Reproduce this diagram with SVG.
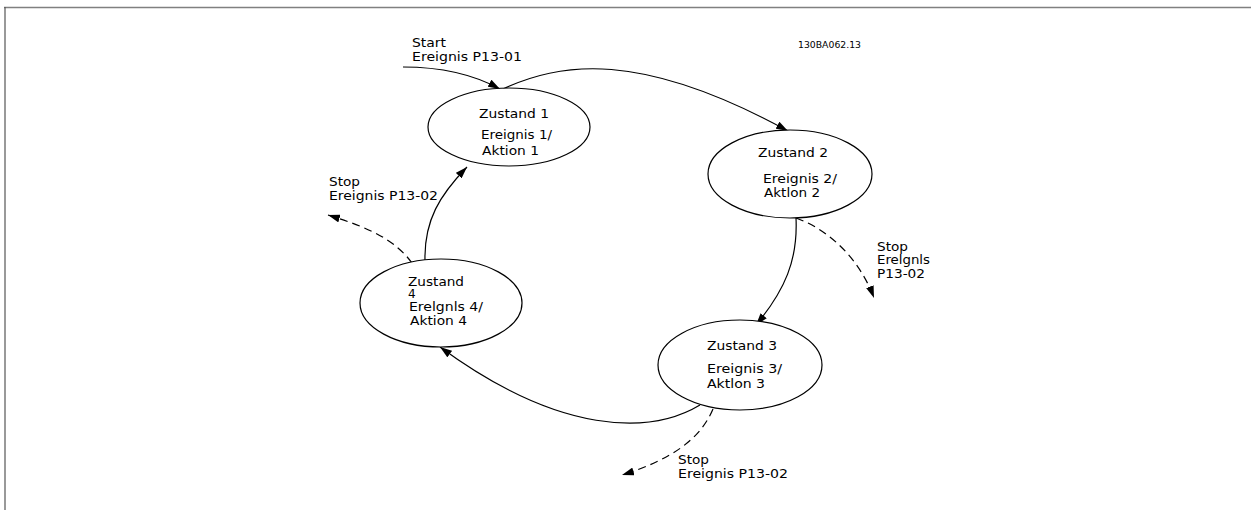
<svg xmlns="http://www.w3.org/2000/svg" width="1251" height="510" viewBox="0 0 1251 510">
<defs>
<marker id="ah" viewBox="0 0 12 8" refX="12" refY="4" markerWidth="12" markerHeight="8" markerUnits="userSpaceOnUse" orient="auto">
<path d="M0,0 L12,4 L0,8 Z" fill="#000"/>
</marker>
</defs>
<style>
.t{font-family:"DejaVu Sans",Verdana,sans-serif;font-size:12px;fill:#000}
.s{font-family:"DejaVu Sans",Verdana,sans-serif;font-size:9px;fill:#000}
.n{fill:#fff;stroke:#000;stroke-width:1.2}
.c{fill:none;stroke:#000;stroke-width:1.2;marker-end:url(#ah)}
.d{stroke-dasharray:8 5}
</style>
<rect width="1251" height="510" fill="#fff"/>
<line x1="4" y1="7.5" x2="1251" y2="7.5" stroke="#808080" stroke-width="1.6"/>
<line x1="5" y1="7" x2="5" y2="510" stroke="#555" stroke-width="1.2"/>
<text class="s" x="798" y="48" textLength="63" lengthAdjust="spacingAndGlyphs">130BA062.13</text>

<g id="connectors">
<path class="c" d="M403,67 Q460,67 500,89"/>
<path class="c" d="M503,89 C560,62 640,50 788,131"/>
<path class="c" d="M796,218 C798,260 785,290 756,325"/>
<path class="c" d="M700,405 C650,435 560,435 440,347"/>
<path class="c" d="M425,261 C424,220 440,195 467,167"/>
<path class="c d" d="M412,263 C395,240 370,228 328,215"/>
<path class="c d" d="M796,218 C830,230 860,260 874,298"/>
<path class="c d" d="M713,409 C700,440 670,460 622,475"/>
</g>

<g id="start-label">
<text class="t" x="412" y="47" textLength="34" lengthAdjust="spacingAndGlyphs">Start</text>
<text class="t" x="412" y="61" textLength="110" lengthAdjust="spacingAndGlyphs">Ereignis P13-01</text>
</g>

<g id="zustand1">
<ellipse class="n" cx="509" cy="127" rx="81" ry="39"/>
<text class="t" x="479" y="118" textLength="70" lengthAdjust="spacingAndGlyphs">Zustand 1</text>
<text class="t" x="481" y="139" textLength="71" lengthAdjust="spacingAndGlyphs">Ereignis 1/</text>
<text class="t" x="482" y="155" textLength="57" lengthAdjust="spacingAndGlyphs">Aktion 1</text>
</g>

<g id="zustand2">
<ellipse class="n" cx="790" cy="174" rx="82" ry="44"/>
<text class="t" x="758" y="157" textLength="70" lengthAdjust="spacingAndGlyphs">Zustand 2</text>
<text class="t" x="763" y="183" textLength="74" lengthAdjust="spacingAndGlyphs">Ereignis 2/</text>
<text class="t" x="764" y="197" textLength="56" lengthAdjust="spacingAndGlyphs">Aktlon 2</text>
</g>

<g id="zustand3">
<ellipse class="n" cx="740" cy="365" rx="82" ry="45"/>
<text class="t" x="707" y="350" textLength="70" lengthAdjust="spacingAndGlyphs">Zustand 3</text>
<text class="t" x="707" y="373" textLength="75" lengthAdjust="spacingAndGlyphs">Ereignis 3/</text>
<text class="t" x="707" y="388" textLength="58" lengthAdjust="spacingAndGlyphs">Aktlon 3</text>
</g>

<g id="zustand4">
<ellipse class="n" cx="441" cy="303" rx="81" ry="44"/>
<text class="t" x="408" y="286" textLength="56" lengthAdjust="spacingAndGlyphs">Zustand</text>
<text class="t" x="408" y="298">4</text>
<text class="t" x="409" y="311" textLength="74" lengthAdjust="spacingAndGlyphs">Erelgnls 4/</text>
<text class="t" x="410" y="325" textLength="57" lengthAdjust="spacingAndGlyphs">Aktion 4</text>
</g>

<g id="stop-label-4">
<text class="t" x="329" y="186" textLength="31" lengthAdjust="spacingAndGlyphs">Stop</text>
<text class="t" x="329" y="200" textLength="109" lengthAdjust="spacingAndGlyphs">Ereignis P13-02</text>
</g>

<g id="stop-label-2">
<text class="t" x="877" y="251" textLength="31" lengthAdjust="spacingAndGlyphs">Stop</text>
<text class="t" x="877" y="264" textLength="53" lengthAdjust="spacingAndGlyphs">Erelgnls</text>
<text class="t" x="877" y="278" textLength="48" lengthAdjust="spacingAndGlyphs">P13-02</text>
</g>

<g id="stop-label-3">
<text class="t" x="678" y="464" textLength="31" lengthAdjust="spacingAndGlyphs">Stop</text>
<text class="t" x="678" y="478" textLength="110" lengthAdjust="spacingAndGlyphs">Ereignis P13-02</text>
</g>
</svg>
